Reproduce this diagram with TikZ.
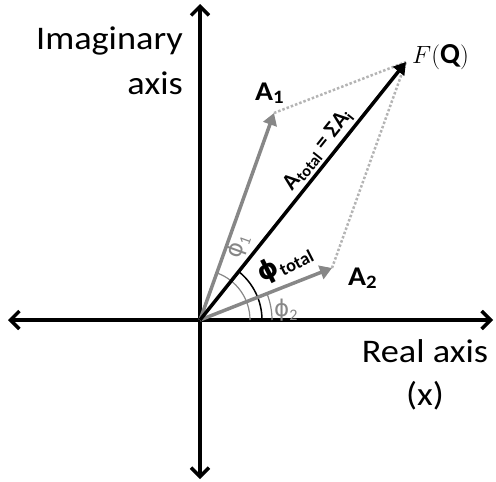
\documentclass[tikz,border=0pt]{standalone}
\usepackage{fontspec}
\setmainfont{Carlito}
\newfontfamily\phifont{DejaVu Sans}
\usetikzlibrary{arrows.meta,calc}
\definecolor{vecgray}{RGB}{135,135,135}
\definecolor{dotgray}{RGB}{180,180,180}
\begin{document}
\begin{tikzpicture}[x=1pt,y=-1pt,
  axisline/.style={line width=3.5pt,{Straight Barb[length=9pt,width=18pt]}-{Straight Barb[length=9pt,width=18pt]}},
  gvec/.style={line width=3.5pt,vecgray,-{Triangle[length=12pt,width=14pt]}},
  bvec/.style={line width=3.5pt,black,-{Triangle[length=12pt,width=14pt]}},
  dotline/.style={line width=2.5pt,dotgray,dotted},
  garc/.style={line width=1.2pt,vecgray},
  barc/.style={line width=1.5pt,black},
  lab/.style={inner sep=0pt,xscale=1.1,font=\fontsize{33}{40}\selectfont},
  vlab/.style={inner sep=0pt,xscale=1.1,anchor=base west,font=\fontsize{27}{30}\selectfont\bfseries}
]
\useasboundingbox (0,0) rectangle (496,482);
\coordinate (O) at (200,320);
\coordinate (L) at (8,320);
\coordinate (R) at (493,320);
\coordinate (T) at (200,4);
\coordinate (B) at (200,479);
\coordinate (A1) at (274,113);
\coordinate (A2) at (332,268);
\coordinate (F) at (406,62);

\draw[dotline] (A1) -- (F);
\draw[dotline] (A2) -- (F);
\draw[axisline] (L) -- (R);
\draw[axisline] (B) -- (T);

\draw[garc] ($(O)+(50,0)$) arc[start angle=0,end angle=-70.3,radius=50];
\draw[garc] ($(O)+(72,0)$) arc[start angle=0,end angle=-21.5,radius=72];
\draw[barc] ($(O)+(62,0)$) arc[start angle=0,end angle=-51.4,radius=62];

\draw[gvec] (O) -- (A1);
\draw[gvec] (O) -- (A2);
\draw[bvec] (O) -- (F);

\node[lab,anchor=base east] (imag1) at (183,49) {Imaginary};
\node[lab,anchor=base east] (imag2) at (183,94) {axis};
\node[lab,anchor=base] (real1) at (425,362) {Real axis};
\node[lab,anchor=base] (real2) at (425,405) {(x)};
\node[inner sep=0pt,anchor=base west,font=\fontsize{29}{32}\selectfont] (fq) at (412,63) {$F(\mathbf{Q})$};
\node[vlab] (a1lab) at (255,100) {A\textsubscript{1}};
\node[vlab] (a2lab) at (348,285) {A\textsubscript{2}};
\node[inner sep=0pt,font=\fontsize{23}{26}\selectfont\bfseries,rotate=51.4] (atot) at (318,150) {A\textsubscript{total} = ΣA\textsubscript{i}};
\node[inner sep=0pt,font=\fontsize{26}{30}\selectfont\bfseries,rotate=27] (phit) at (285,263) {{\phifont ϕ}\textsubscript{total}};
\node[inner sep=0pt,font=\fontsize{23}{26}\selectfont,text=vecgray,rotate=70] (phi1) at (238,246) {{\phifont ϕ}\textsubscript{1}};
\node[inner sep=0pt,font=\fontsize{23}{26}\selectfont,text=vecgray] (phi2) at (286,310) {{\phifont ϕ}\textsubscript{2}};
\end{tikzpicture}
\end{document}
